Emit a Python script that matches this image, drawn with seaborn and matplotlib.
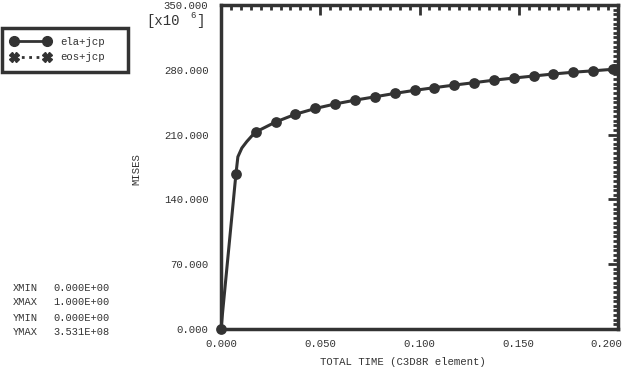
import matplotlib
matplotlib.use("Agg")
import matplotlib.pyplot as plt
import seaborn as sns
import pandas as pd
from matplotlib.lines import Line2D
from matplotlib.ticker import MultipleLocator, FormatStrFormatter
import matplotlib.transforms as mtransforms

# Marked points on the ela+jcp curve (time, Mises stress in 1e6 units)
marker_time = [0.0, 0.0075, 0.0175, 0.0275, 0.0375, 0.0475, 0.0575, 0.0675,
               0.0775, 0.0875, 0.0975, 0.1075, 0.1175, 0.1275, 0.1375,
               0.1475, 0.1575, 0.1675, 0.1775, 0.1875, 0.1975]
marker_mises = [0.0, 166.9, 212.8, 223.6, 232.0, 238.2, 243.1, 247.2,
                250.8, 254.5, 257.8, 260.7, 263.5, 266.1, 268.8,
                271.1, 273.3, 275.5, 277.4, 278.9, 280.6]
# extra unmarked points on the curve around the knee
knee_time = [0.0085, 0.0105, 0.013, 0.0155]
knee_mises = [186.0, 195.5, 202.5, 208.5]

x_ticks = [0.0, 0.05, 0.10, 0.15, 0.20]
y_ticks = [0, 70, 140, 210, 280, 350]

legend_labels = ["ela+jcp", "eos+jcp"]
info_names = ["XMIN", "XMAX", "YMIN", "YMAX"]
info_values = ["0.000E+00", "1.000E+00", "0.000E+00", "3.531E+08"]

ink = "#333333"
mono = "Liberation Mono"

sns.set_style("white")
plt.rcParams["font.family"] = [mono, "DejaVu Sans Mono"]
plt.rcParams["font.size"] = 7.7
plt.rcParams["text.color"] = ink

curve = pd.DataFrame({"time": marker_time + knee_time,
                      "mises": marker_mises + knee_mises}).sort_values("time")
marks = pd.DataFrame({"time": marker_time, "mises": marker_mises})

fig = plt.figure(figsize=(6.22, 3.68), dpi=100)
ax = fig.add_axes([221 / 622, 1 - 329 / 368, 397 / 622, 324 / 368])

sns.lineplot(data=curve, x="time", y="mises", ax=ax, color=ink, lw=2.2,
             sort=False, clip_on=False)
sns.scatterplot(data=marks, x="time", y="mises", ax=ax, color=ink, s=60,
                edgecolor=ink, linewidth=0, zorder=5, clip_on=False)

ax.set_xlim(0, 0.2)
ax.set_ylim(0, 350)
ax.set_xticks(x_ticks)
ax.set_yticks(y_ticks)
ax.xaxis.set_minor_locator(MultipleLocator(0.005))
ax.yaxis.set_minor_locator(MultipleLocator(5))
ax.xaxis.set_major_formatter(FormatStrFormatter("%.3f"))
ax.yaxis.set_major_formatter(FormatStrFormatter("%.3f"))
ax.tick_params(which="both", direction="in", top=True, right=True,
               colors=ink, width=2)
ax.tick_params(which="major", length=7)
ax.tick_params(which="minor", length=3.5)
ax.tick_params(axis="x", which="major", pad=7, labelsize=7.7)
ax.tick_params(axis="y", which="major", pad=9, labelsize=7.7)
for spine in ax.spines.values():
    spine.set_linewidth(2.5)
    spine.set_color(ink)

# last x tick label is pulled left to stay inside the figure
last = ax.xaxis.get_major_ticks()[-1].label1
last.set_horizontalalignment("right")
last.set_transform(last.get_transform() +
                   mtransforms.ScaledTranslation(4 / 100, 0, fig.dpi_scale_trans))

ax.set_xlabel("TOTAL TIME (C3D8R element)", color=ink)
ax.set_ylabel("MISES", color=ink)
ax.xaxis.label.set_va("center")
ax.yaxis.label.set_va("center")
ax.xaxis.set_label_coords(0.458, -0.102)
ax.yaxis.set_label_coords(-0.214, 0.494)

# scale factor next to top tick label
fig.text(146 / 622, 1 - 21 / 368, "[x10", ha="left", va="center", fontsize=10)
fig.text(190 / 622, 1 - 16 / 368, "6", ha="left", va="center", fontsize=6.5)
fig.text(196 / 622, 1 - 21 / 368, "]", ha="left", va="center", fontsize=10)

handles = [
    Line2D([], [], color=ink, lw=2, marker="o", markersize=7),
    Line2D([], [], color=ink, lw=2, ls=":", marker="X", markersize=7),
]
leg = fig.legend(handles, legend_labels, loc="upper left", mode="expand",
                 bbox_to_anchor=(2 / 622, 1 - 72 / 368, 126 / 622, 44 / 368),
                 numpoints=2, handlelength=3.7, handletextpad=0.9,
                 labelspacing=0.5, borderpad=0.85, fancybox=False,
                 framealpha=1, edgecolor=ink, fontsize=7.7, borderaxespad=0)
leg.get_frame().set_linewidth(2.5)

for i, (name, val) in enumerate(zip(info_names, info_values)):
    y = 288 + i * 14.3 + (1 if i >= 2 else 0)
    fig.text(13 / 622, 1 - y / 368, name, ha="left", va="center", fontsize=7.5)
    fig.text(53 / 622, 1 - y / 368, val, ha="left", va="center", fontsize=7.5)

fig.savefig("out.png", dpi=100)
